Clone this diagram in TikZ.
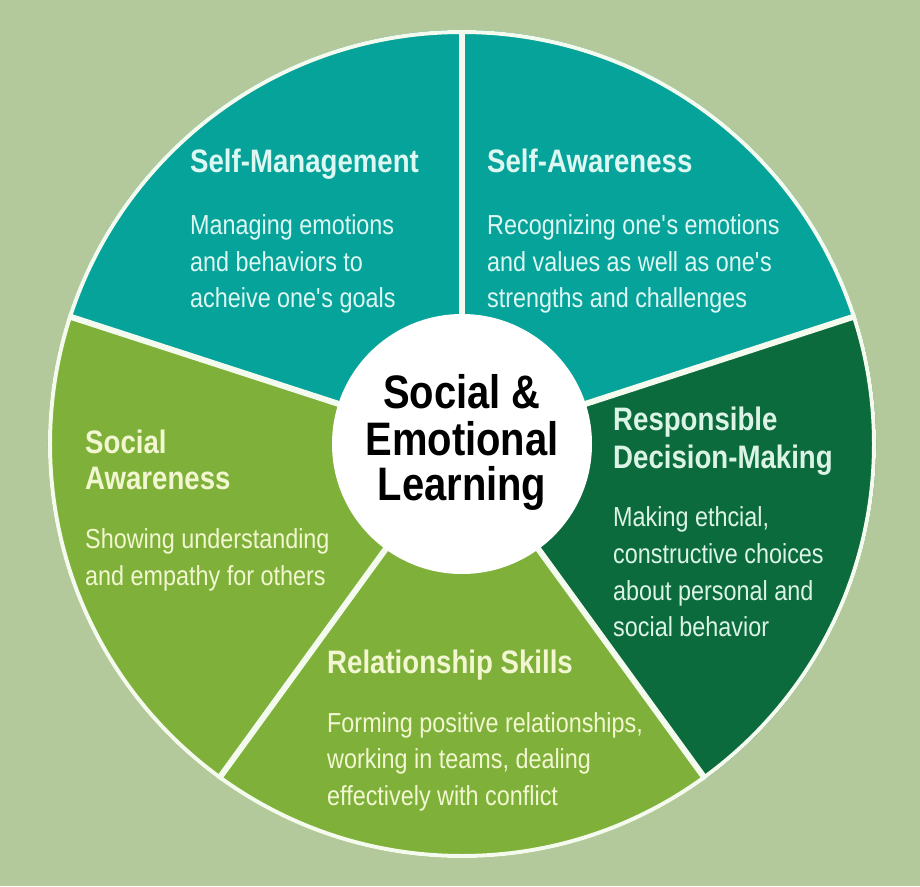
\documentclass[tikz,border=0pt]{standalone}
\usepackage{fontspec}
\setmainfont{Liberation Sans}[FakeStretch=0.85]
\definecolor{bgc}{HTML}{B4C99B}
\definecolor{tealw}{HTML}{06A39A}
\definecolor{darkw}{HTML}{0B6B3D}
\definecolor{lightw}{HTML}{7FB13A}
\definecolor{rimc}{HTML}{F4FAEE}
\definecolor{ttxt}{HTML}{DDF7F2}
\definecolor{gtxt}{HTML}{F2F7D2}
\definecolor{dtxt}{HTML}{DCF4E6}
\newcommand{\ap}{\textquotesingle}
\begin{document}
\begin{tikzpicture}[x=1pt,y=1pt,
  head/.style={anchor=base west, inner sep=0pt, font=\bfseries\fontsize{32.5}{32.5}\selectfont},
  body/.style={anchor=base west, inner sep=0pt, font=\fontsize{27.5}{27.5}\selectfont},
  core/.style={anchor=base, inner sep=0pt, font=\bfseries\fontsize{47}{47}\selectfont}]
\useasboundingbox (-462,-442) rectangle (458,444);
\fill[bgc] (-462,-442) rectangle (458,444);
% wedges
\fill[tealw] (0,0) -- (18:414) arc (18:90:414) -- cycle;
\fill[tealw] (0,0) -- (90:414) arc (90:162:414) -- cycle;
\fill[lightw] (0,0) -- (162:414) arc (162:234:414) -- cycle;
\fill[lightw] (0,0) -- (234:414) arc (234:306:414) -- cycle;
\fill[darkw] (0,0) -- (-54:414) arc (-54:18:414) -- cycle;
% rim and dividers
\coordinate (c) at (0,0);
\coordinate (d1) at (90:414);
\coordinate (d2) at (162:414);
\coordinate (d3) at (234:414);
\coordinate (d4) at (306:414);
\coordinate (d5) at (18:414);
\draw[rimc, line width=4pt] (c) circle (412);
\foreach \d in {d1,d2,d3,d4,d5} \draw[rimc, line width=6pt] (c) -- (\d);
% center
\node[circle, fill=white, minimum size=260pt, inner sep=0pt] (hub) at (c) {};
\node[core] (t1) at (0,36) {Social \&};
\node[core] (t2) at (0,-11) {Emotional};
\node[core] (t3) at (0,-56) {Learning};
% Self-Management
\node[head, text=ttxt] (sm) at (-272,271) {Self-Management};
\node[body, text=ttxt] (sm1) at (-272,209) {Managing emotions};
\node[body, text=ttxt] (sm2) at (-272,172) {and behaviors to};
\node[body, text=ttxt] (sm3) at (-272,136) {acheive one\ap s goals};
% Self-Awareness
\node[head, text=ttxt] (sa) at (25,271) {Self-Awareness};
\node[body, text=ttxt] (sa1) at (25,209) {Recognizing one\ap s emotions};
\node[body, text=ttxt] (sa2) at (25,172) {and values as well as one\ap s};
\node[body, text=ttxt] (sa3) at (25,136) {strengths and challenges};
% Responsible Decision-Making
\node[head, text=dtxt] (rd) at (151,14) {Responsible};
\node[head, text=dtxt] (rdb) at (151,-24) {Decision-Making};
\node[body, text=dtxt] (rd1) at (151,-82) {Making ethcial,};
\node[body, text=dtxt] (rd2) at (151,-119) {constructive choices};
\node[body, text=dtxt] (rd3) at (151,-156) {about personal and};
\node[body, text=dtxt] (rd4) at (151,-192) {social behavior};
% Social Awareness
\node[head, text=gtxt] (so) at (-377,-9) {Social};
\node[head, text=gtxt] (sob) at (-377,-45) {Awareness};
\node[body, text=gtxt] (so1) at (-377,-104) {Showing understanding};
\node[body, text=gtxt] (so2) at (-377,-141) {and empathy for others};
% Relationship Skills
\node[head, text=gtxt] (rs) at (-135,-229) {Relationship Skills};
\node[body, text=gtxt] (rs1) at (-135,-288) {Forming positive relationships,};
\node[body, text=gtxt] (rs2) at (-135,-324) {working in teams, dealing};
\node[body, text=gtxt] (rs3) at (-135,-361) {effectively with conflict};
\end{tikzpicture}
\end{document}
